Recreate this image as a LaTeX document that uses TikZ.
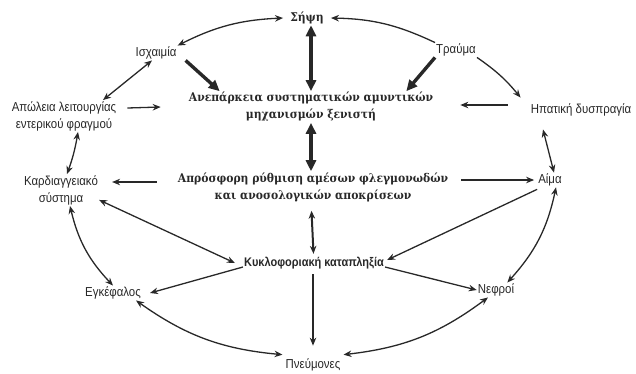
\documentclass[tikz,border=0pt]{standalone}
\usepackage{fontspec}
\setmainfont{Liberation Sans}
\newfontfamily\labfont[FakeStretch=0.88]{Liberation Sans}
\newfontfamily\hdfont[FakeStretch=0.9]{DejaVu Serif}
\usetikzlibrary{arrows.meta}
\definecolor{ink}{RGB}{40,40,40}
\begin{document}
\begin{tikzpicture}[x=1pt,y=-1pt, ink,
  lab/.style={font=\labfont\fontsize{13}{17}\selectfont, inner sep=1pt, align=center},
  hd/.style={font=\hdfont\bfseries\fontsize{12}{17}\selectfont, inner sep=1pt, align=center},
  arr/.style={-{Stealth[length=8pt,width=6.5pt]}, line width=1.3pt},
  darr/.style={{Stealth[length=8pt,width=6.5pt]}-{Stealth[length=8pt,width=6.5pt]}, line width=1.3pt},
  fat/.style={-{Triangle[length=11pt,width=10pt]}, line width=3.4pt},
  dfat/.style={{Triangle[length=11pt,width=10pt]}-{Triangle[length=11pt,width=10pt]}, line width=3.4pt}]
\useasboundingbox (0,0) rectangle (636,373);
\node[hd] (sep) at (307,18){Σήψη};
\node[lab] (isch) at (156,53){Ισχαιμία};
\node[lab] (trau) at (456,50){Τραύμα};
\node[hd] (anep) at (311,107){Ανεπάρκεια συστηματικών αμυντικών\\μηχανισμών ξενιστή};
\node[lab] (apol) at (64,116){Απώλεια λειτουργίας\\εντερικού φραγμού};
\node[lab] (hep) at (581,110){Ηπατική δυσπραγία};
\node[hd] (apr) at (313,187){Απρόσφορη ρύθμιση αμέσων φλεγμονωδών\\και ανοσολογικών αποκρίσεων};
\node[lab] (kard) at (61,190){Καρδιαγγειακό\\σύστημα};
\node[lab] (aima) at (550,180){Αίμα};
\node[lab, font=\labfont\bfseries\fontsize{12.5}{17}\selectfont] (kyk) at (314,263){Κυκλοφοριακή καταπληξία};
\node[lab] (egk) at (113,293){Εγκέφαλος};
\node[lab] (nef) at (496,290){Νεφροί};
\node[lab] (pneu) at (313,365){Πνεύμονες};
\draw[darr] (isch.north east) to[bend left=12] ([xshift=-6pt]sep.west);
\draw[arr] (trau.north west) to[bend right=12] ([xshift=6pt]sep.east);
\draw[dfat] ([xshift=4pt]sep.south) -- (anep.north);
\draw[fat] ([xshift=8pt]isch.south east) -- ([xshift=32pt]anep.north west);
\draw[fat] (trau.south west) -- ([xshift=-28pt]anep.north east);
\draw[dfat] (anep.south) -- ([xshift=-2pt]apr.north);
\draw[arr] ([xshift=10pt,yshift=8pt]apol.east) -- ([xshift=-27pt]anep.west);
\draw[arr] ([xshift=-22pt,yshift=5pt]hep.west) -- ([xshift=26pt,yshift=2pt]anep.east);
\draw[darr] ([xshift=-4pt]isch.south) -- ([xshift=39pt]apol.north);
\draw[arr] (trau.south east) to[bend left=8] ([xshift=-9pt,yshift=5pt]hep.north west);
\draw[darr] ([xshift=14pt]apol.south) to[bend left=5] ([xshift=6pt]kard.north);
\draw[darr] ([xshift=-38pt,yshift=-12pt]hep.south) -- ([xshift=4pt]aima.north);
\draw[arr] ([xshift=-20pt,yshift=5pt]apr.west) -- ([xshift=13pt,yshift=8pt]kard.east);
\draw[arr] ([xshift=12pt,yshift=7pt]apr.east) -- ([xshift=-3pt]aima.west);
\draw[darr] ([yshift=6pt]kard.south east) -- ([xshift=-8pt]kyk.west);
\draw[darr] ([xshift=9pt]kard.south) to[bend right=15] (egk.north);
\draw[arr] ([yshift=-4pt]kyk.west) -- ([xshift=8pt]egk.east);
\draw[darr] ([xshift=-6pt]egk.south east) to[bend right=15] ([xshift=-2pt,yshift=3pt]pneu.north west);
\draw[darr, line width=2pt] ([xshift=-1.5pt,yshift=-8pt]apr.south) -- ([xshift=-0.5pt,yshift=2pt]kyk.north);
\draw[arr] ([xshift=-1pt,yshift=-4pt]kyk.south) -- ([yshift=12pt]pneu.north);
\draw[arr] ([yshift=-2pt]aima.south west) -- ([xshift=2pt,yshift=3pt]kyk.east);
\draw[arr] ([yshift=-4pt]kyk.east) -- (nef.west);
\draw[darr] ([xshift=6pt]aima.south) to[bend left=15] ([xshift=-8pt]nef.north east);
\draw[darr] ([xshift=-8pt]nef.south) to[bend left=15] ([xshift=2pt,yshift=3pt]pneu.north east);
\end{tikzpicture}
\end{document}
